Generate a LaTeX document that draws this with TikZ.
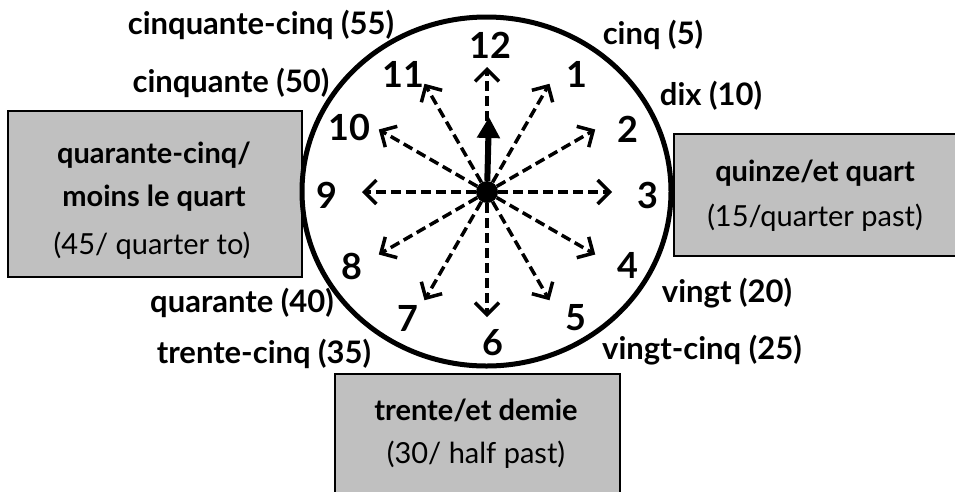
\documentclass[tikz,border=0pt]{standalone}
\usepackage{fontspec}
\setmainfont{Lato}
\usetikzlibrary{arrows.meta}
\definecolor{boxgray}{RGB}{192,192,192}
\begin{document}
\begin{tikzpicture}[x=1pt,y=-1pt,
  lbl/.style={font=\fontsize{31}{34}\selectfont\bfseries, inner sep=0pt},
  num/.style={font=\fontsize{36}{38}\selectfont\bfseries, inner sep=0pt},
  boxtitle/.style={font=\fontsize{29}{32}\selectfont\bfseries, inner sep=0pt},
  boxsub/.style={font=\fontsize{29}{32}\selectfont, inner sep=0pt},
  greybox/.style={draw=black, line width=1.5pt, fill=boxgray, inner sep=0pt, anchor=north west},
  dasharrow/.style={line width=3.5pt, dash pattern=on 10pt off 5pt, -{Straight Barb[length=12pt,width=24pt,line width=3.5pt]}},
  hand/.style={line width=6pt, -{Triangle[length=21pt,width=22pt]}},
  face/.style={line width=5pt}
]
\useasboundingbox (0,0) rectangle (955,491);
% boxes
\node[greybox, minimum width=294pt, minimum height=166pt] (lbox) at (7,110) {};
\node[greybox, minimum width=282pt, minimum height=122pt] (rbox) at (673,133) {};
\node[greybox, minimum width=285pt, minimum height=130pt] (bbox) at (334,373) {};
% clock face
\draw[face] (486.5,191.5) ellipse [x radius=184.5, y radius=174.5];
% numbers
\node[num] (n12) at (490,45) {12};
\node[num] (n1) at (577,74) {1};
\node[num] (n2) at (628,129) {2};
\node[num] (n3) at (648,195) {3};
\node[num] (n4) at (628,265) {4};
\node[num] (n5) at (576,318) {5};
\node[num] (n6) at (493,343) {6};
\node[num] (n7) at (408,318) {7};
\node[num] (n8) at (352,266) {8};
\node[num] (n9) at (327,195) {9};
\node[num] (n10) at (349,127) {10};
\node[num] (n11) at (403,74) {11};
% centre
\node[circle, fill=black, inner sep=0pt, minimum size=22pt] (c) at (487,192) {};
\foreach \h in {1,...,12} {
  \coordinate (a\h) at ({487+125*sin(30*\h)},{192-125*cos(30*\h)});
  \draw[dasharrow] (c) -- (a\h);
}
\coordinate (htip) at (489,117);
\draw[hand] (c) -- (htip);
% labels
\node[lbl] (l55) at (261,25) {cinquante-cinq (55)};
\node[lbl] (l50) at (231,83) {cinquante (50)};
\node[lbl] (l5) at (653,35) {cinq (5)};
\node[lbl] (l10) at (711,96) {dix (10)};
\node[lbl] (l20) at (727,293) {vingt (20)};
\node[lbl] (l25) at (702,350) {vingt-cinq (25)};
\node[lbl] (l40) at (242,303) {quarante (40)};
\node[lbl] (l35) at (264,354) {trente-cinq (35)};
% box texts
\node[boxtitle] (lt1) at (154,155) {quarante-cinq/};
\node[boxtitle] (lt2) at (154,198) {moins le quart};
\node[boxsub] (ls) at (152,246) {(45/ quarter to)};
\node[boxtitle] (rt) at (815,173) {quinze/et quart};
\node[boxsub] (rs) at (815,218) {(15/quarter past)};
\node[boxtitle] (bt) at (476,410) {trente/et demie};
\node[boxsub] (bs) at (476,455) {(30/ half past)};
\end{tikzpicture}
\end{document}
